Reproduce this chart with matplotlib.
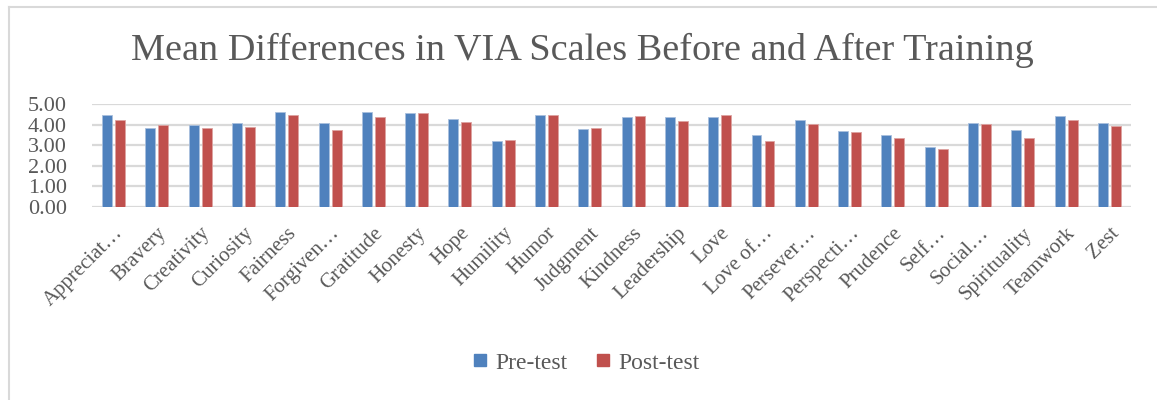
import numpy as np
import matplotlib
matplotlib.use('Agg')
import matplotlib.pyplot as plt
from matplotlib.lines import Line2D

matplotlib.rcParams['font.family'] = ['Liberation Serif', 'DejaVu Serif']

scales = ['Appreciat…', 'Bravery', 'Creativity', 'Curiosity', 'Fairness',
          'Forgiven…', 'Gratitude', 'Honesty', 'Hope', 'Humility', 'Humor',
          'Judgment', 'Kindness', 'Leadership', 'Love', 'Love of…',
          'Persever…', 'Perspecti…', 'Prudence', 'Self…', 'Social…',
          'Spirituality', 'Teamwork', 'Zest']
pre_test = [4.47, 3.83, 4.00, 4.09, 4.61, 4.09, 4.61, 4.56, 4.26, 3.22, 4.45,
            3.79, 4.35, 4.38, 4.35, 3.48, 4.21, 3.67, 3.51, 2.90, 4.08, 3.74,
            4.43, 4.08]
post_test = [4.22, 3.97, 3.82, 3.90, 4.47, 3.72, 4.38, 4.55, 4.13, 3.25, 4.45,
             3.83, 4.42, 4.17, 4.45, 3.22, 4.05, 3.64, 3.33, 2.83, 4.01, 3.37,
             4.24, 3.95]

blue = '#4F81BD'
red = '#C0504D'
txt = '#595959'
grid = '#D9D9D9'

fig = plt.figure(figsize=(11.57, 4.0), dpi=100)
ax = fig.add_axes([0.0795, 0.4825, 0.898, 0.2575])

x = np.arange(len(scales))
w = 0.23
ax.bar(x - 0.15, pre_test, width=w, color=blue, edgecolor='#A9C0DE', linewidth=0.6, zorder=3)
ax.bar(x + 0.15, post_test, width=w, color=red, edgecolor='#DDA3A1', linewidth=0.6, zorder=3)

ax.set_xlim(-0.5, len(scales) - 0.5)
ax.set_ylim(0, 5)
ax.set_yticks(np.arange(0, 5.01, 1.0))
ax.set_yticklabels([f'{v:.2f}' for v in np.arange(0, 5.01, 1.0)], fontsize=16, color=txt)
ax.yaxis.grid(True, color=grid, linewidth=1.6, zorder=0)
ax.set_axisbelow(True)
for s in ax.spines.values():
    s.set_visible(False)
ax.tick_params(axis='both', length=0)
ax.tick_params(axis='y', pad=18)
ax.set_xticks(x)
ax.set_xticklabels(scales, rotation=45, ha='right', va='top', rotation_mode='anchor',
                   fontsize=15, color=txt)
ax.tick_params(axis='x', pad=12)

fig.text(0.503, 0.875, 'Mean Differences in VIA Scales Before and After Training',
         ha='center', va='center', fontsize=27.5, color=txt)

handles = [Line2D([], [], marker='s', ls='', color=blue, markersize=9),
           Line2D([], [], marker='s', ls='', color=red, markersize=9)]
fig.legend(handles, ['Pre-test', 'Post-test'], loc='center', bbox_to_anchor=(0.507, 0.093),
           ncol=2, frameon=False, fontsize=17, handlelength=0.6, handletextpad=0.35,
           columnspacing=1.2, labelcolor=txt)

# chart border (left and top visible)
fig.add_artist(Line2D([0.0075, 0.0075], [0, 0.9825], color='#D9D9D9', lw=1.5, transform=fig.transFigure))
fig.add_artist(Line2D([0.0075, 1.0], [0.9825, 0.9825], color='#D9D9D9', lw=1.5, transform=fig.transFigure))

fig.savefig('out.png', dpi=100)
